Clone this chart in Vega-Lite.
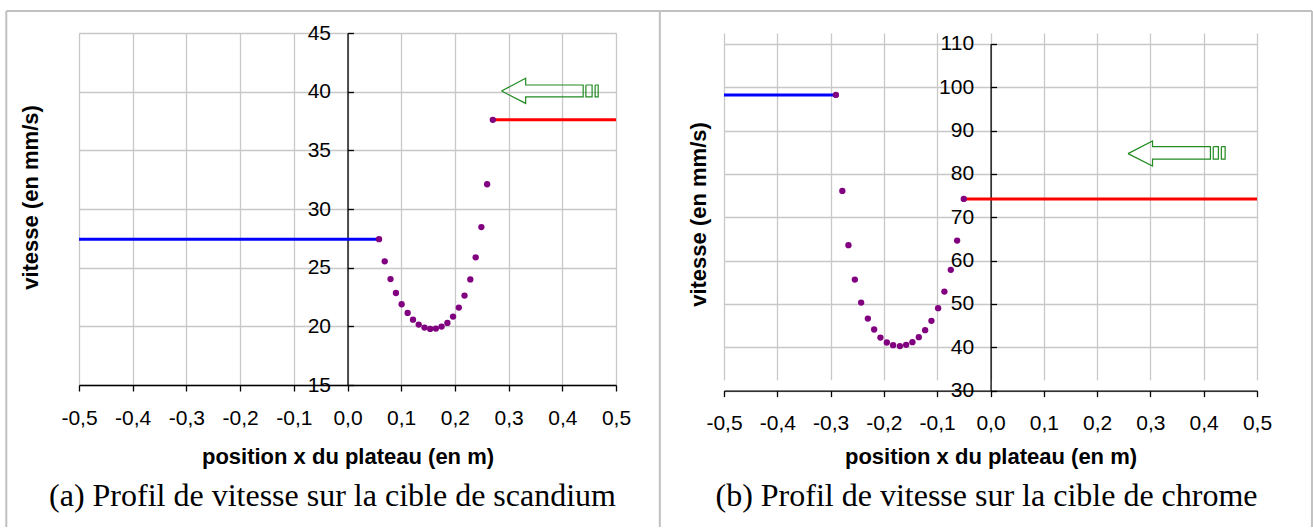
{
  "$schema": "https://vega.github.io/schema/vega-lite/v6.json",
  "padding": {"left": 5, "top": 9, "right": 0, "bottom": 0},
  "spacing": -3,
  "config": {
    "view": {"stroke": null},
    "font": "Liberation Sans",
    "axis": {
      "labelFont": "Liberation Sans", "titleFont": "Liberation Sans",
      "labelColor": "#000000", "titleColor": "#000000",
      "labelFontSize": 21, "titleFontSize": 22, "titleFontWeight": "bold",
      "gridColor": "#c8c8c8", "gridWidth": 1.3, "gridOpacity": 1,
      "domainColor": "#000000", "tickColor": "#000000", "domainWidth": 1.3, "tickWidth": 1.3,
      "labelFlush": false, "labelOverlap": false
    },
    "title": {"font": "Liberation Serif", "fontSize": 32, "fontWeight": "normal", "color": "#000000", "baseline": "top"}
  },
  "datasets": {
    "sc_frame": [
      {"x": -0.6354, "x2": 0.5816, "y": 46.875, "y2": 46.875},
      {"x": -0.6354, "x2": -0.6354, "y": 46.875, "y2": 2.9},
      {"x": 0.5816, "x2": 0.5816, "y": 46.875, "y2": 2.9}
    ],
    "cr_frame": [
      {"x": -0.6205, "x2": 0.6031, "y": 117.57, "y2": 117.57},
      {"x": 0.6031, "x2": 0.6031, "y": 117.57, "y2": -1.46}
    ],
    "sc_levels": [
      {"phase": "avant", "x": -0.5, "x2": 0.0587, "y": 27.43},
      {"phase": "après", "x": 0.2706, "x2": 0.5, "y": 37.6}
    ],
    "cr_levels": [
      {"phase": "avant", "x": -0.5, "x2": -0.29, "y": 98.2},
      {"phase": "après", "x": -0.0501, "x2": 0.5, "y": 74.22}
    ],
    "sc_points": [
      {"x": 0.0587, "y": 27.43}, {"x": 0.0693, "y": 25.54}, {"x": 0.0801, "y": 24.03},
      {"x": 0.0902, "y": 22.84}, {"x": 0.1008, "y": 21.88}, {"x": 0.112, "y": 21.14},
      {"x": 0.122, "y": 20.57}, {"x": 0.1326, "y": 20.15}, {"x": 0.1434, "y": 19.89},
      {"x": 0.154, "y": 19.78}, {"x": 0.1646, "y": 19.81}, {"x": 0.1752, "y": 19.98},
      {"x": 0.186, "y": 20.29}, {"x": 0.1966, "y": 20.83}, {"x": 0.2073, "y": 21.6},
      {"x": 0.2179, "y": 22.62}, {"x": 0.2287, "y": 24.0}, {"x": 0.2387, "y": 25.88},
      {"x": 0.2493, "y": 28.46}, {"x": 0.26, "y": 32.11}, {"x": 0.2706, "y": 37.6}
    ],
    "cr_points": [
      {"x": -0.29, "y": 98.2}, {"x": -0.278, "y": 76.06}, {"x": -0.2665, "y": 63.54},
      {"x": -0.2545, "y": 55.62}, {"x": -0.2427, "y": 50.31}, {"x": -0.2301, "y": 46.62},
      {"x": -0.2183, "y": 44.09}, {"x": -0.2065, "y": 42.24}, {"x": -0.1945, "y": 41.09},
      {"x": -0.1827, "y": 40.49}, {"x": -0.17, "y": 40.26}, {"x": -0.1583, "y": 40.56},
      {"x": -0.1465, "y": 41.18}, {"x": -0.1345, "y": 42.33}, {"x": -0.1226, "y": 43.95},
      {"x": -0.1108, "y": 46.09}, {"x": -0.0983, "y": 49.02}, {"x": -0.0865, "y": 52.85},
      {"x": -0.0745, "y": 57.85}, {"x": -0.0626, "y": 64.61}, {"x": -0.0501, "y": 74.22}
    ],
    "sc_arrow": [
      {"shape": "head", "i": 0, "x": 0.2868, "y": 40.06},
      {"shape": "head", "i": 1, "x": 0.3318, "y": 41.14},
      {"shape": "head", "i": 2, "x": 0.3318, "y": 40.57},
      {"shape": "head", "i": 3, "x": 0.4389, "y": 40.57},
      {"shape": "head", "i": 4, "x": 0.4389, "y": 39.55},
      {"shape": "head", "i": 5, "x": 0.3318, "y": 39.55},
      {"shape": "head", "i": 6, "x": 0.3318, "y": 39.0},
      {"shape": "head", "i": 7, "x": 0.2868, "y": 40.06},
      {"shape": "r1", "i": 0, "x": 0.4439, "y": 40.57},
      {"shape": "r1", "i": 1, "x": 0.4555, "y": 40.57},
      {"shape": "r1", "i": 2, "x": 0.4555, "y": 39.55},
      {"shape": "r1", "i": 3, "x": 0.4439, "y": 39.55},
      {"shape": "r1", "i": 4, "x": 0.4439, "y": 40.57},
      {"shape": "r2", "i": 0, "x": 0.4611, "y": 40.57},
      {"shape": "r2", "i": 1, "x": 0.4668, "y": 40.57},
      {"shape": "r2", "i": 2, "x": 0.4668, "y": 39.55},
      {"shape": "r2", "i": 3, "x": 0.4611, "y": 39.55},
      {"shape": "r2", "i": 4, "x": 0.4611, "y": 40.57}
    ],
    "cr_arrow": [
      {"shape": "head", "i": 0, "x": 0.258, "y": 84.66},
      {"shape": "head", "i": 1, "x": 0.304, "y": 87.59},
      {"shape": "head", "i": 2, "x": 0.304, "y": 86.28},
      {"shape": "head", "i": 3, "x": 0.4126, "y": 86.28},
      {"shape": "head", "i": 4, "x": 0.4126, "y": 83.38},
      {"shape": "head", "i": 5, "x": 0.304, "y": 83.38},
      {"shape": "head", "i": 6, "x": 0.304, "y": 81.83},
      {"shape": "head", "i": 7, "x": 0.258, "y": 84.66},
      {"shape": "r1", "i": 0, "x": 0.4179, "y": 86.28},
      {"shape": "r1", "i": 1, "x": 0.4275, "y": 86.28},
      {"shape": "r1", "i": 2, "x": 0.4275, "y": 83.38},
      {"shape": "r1", "i": 3, "x": 0.4179, "y": 83.38},
      {"shape": "r1", "i": 4, "x": 0.4179, "y": 86.28},
      {"shape": "r2", "i": 0, "x": 0.4331, "y": 86.28},
      {"shape": "r2", "i": 1, "x": 0.4402, "y": 86.28},
      {"shape": "r2", "i": 2, "x": 0.4402, "y": 83.38},
      {"shape": "r2", "i": 3, "x": 0.4331, "y": 83.38},
      {"shape": "r2", "i": 4, "x": 0.4331, "y": 86.28}
    ]
  },
  "hconcat": [
    {
      "width": 537,
      "height": 352,
      "title": {"text": "(a) Profil de vitesse sur la cible de scandium", "orient": "bottom", "frame": "group", "offset": -47, "dx": -15},
      "encoding": {
        "x": {
          "field": "x", "type": "quantitative",
          "scale": {"domain": [-0.5, 0.5], "nice": false, "zero": false},
          "title": "position x du plateau (en m)",
          "axis": {
            "values": [-0.5, -0.4, -0.3, -0.2, -0.1, 0, 0.1, 0.2, 0.3, 0.4, 0.5],
            "labelExpr": "replace(replace(format(datum.value, '.1f'), '.', ','), '\u2212', '-')",
            "tickSize": 6, "labelPadding": 16, "titlePadding": 18, "grid": true
          }
        },
        "y": {
          "field": "y", "type": "quantitative",
          "scale": {"domain": [15, 45], "nice": false, "zero": false},
          "title": "vitesse (en mm/s)",
          "axis": {
            "values": [15, 20, 25, 30, 35, 40, 45],
            "offset": -268.5, "tickSize": -6, "labelPadding": 23, "grid": true,
            "titleX": -317, "titleY": 164, "titleBaseline": "middle"
          }
        }
      },
      "layer": [
        {
          "data": {"name": "sc_frame"},
          "mark": {"type": "rule", "clip": false, "color": "#c0c0c0", "strokeWidth": 2},
          "encoding": {"x2": {"field": "x2"}, "y2": {"field": "y2"}}
        },
        {
          "data": {"name": "sc_levels"},
          "mark": {"type": "rule", "strokeWidth": 3},
          "encoding": {
            "x2": {"field": "x2"},
            "color": {"field": "phase", "type": "nominal", "scale": {"domain": ["avant", "après"], "range": ["#0000ff", "#ff0000"]}, "legend": null}
          }
        },
        {
          "data": {"name": "sc_points"},
          "mark": {"type": "circle", "size": 40, "color": "#800080", "opacity": 1}
        },
        {
          "data": {"name": "sc_arrow"},
          "mark": {"type": "line", "color": "#228b22", "strokeWidth": 1.2},
          "encoding": {"detail": {"field": "shape"}, "order": {"field": "i", "type": "quantitative"}}
        }
      ]
    },
    {
      "width": 533,
      "height": 357.6,
      "title": {"text": "(b) Profil de vitesse sur la cible de chrome", "orient": "bottom", "frame": "group", "offset": -47, "dx": -4},
      "encoding": {
        "x": {
          "field": "x", "type": "quantitative",
          "scale": {"domain": [-0.5, 0.5], "nice": false, "zero": false},
          "title": "position x du plateau (en m)",
          "axis": {
            "values": [-0.5, -0.4, -0.3, -0.2, -0.1, 0, 0.1, 0.2, 0.3, 0.4, 0.5],
            "labelExpr": "replace(replace(format(datum.value, '.1f'), '.', ','), '\u2212', '-')",
            "tickSize": 6, "labelPadding": 16, "titlePadding": 13, "grid": true
          }
        },
        "y": {
          "field": "y", "type": "quantitative",
          "scale": {"domain": [30, 110], "nice": false, "zero": false, "range": [357.6, 10.8]},
          "title": "vitesse (en mm/s)",
          "axis": {
            "values": [30, 40, 50, 60, 70, 80, 90, 100, 110],
            "offset": -266.6, "tickSize": -6, "labelPadding": 23, "grid": true,
            "titleX": -292, "titleY": 181, "titleBaseline": "middle"
          }
        }
      },
      "layer": [
        {
          "data": {"name": "cr_frame"},
          "mark": {"type": "rule", "clip": false, "color": "#c0c0c0", "strokeWidth": 2},
          "encoding": {"x2": {"field": "x2"}, "y2": {"field": "y2"}}
        },
        {
          "data": {"name": "cr_levels"},
          "mark": {"type": "rule", "strokeWidth": 3},
          "encoding": {
            "x2": {"field": "x2"},
            "color": {"field": "phase", "type": "nominal", "scale": {"domain": ["avant", "après"], "range": ["#0000ff", "#ff0000"]}, "legend": null}
          }
        },
        {
          "data": {"name": "cr_points"},
          "mark": {"type": "circle", "size": 40, "color": "#800080", "opacity": 1}
        },
        {
          "data": {"name": "cr_arrow"},
          "mark": {"type": "line", "color": "#228b22", "strokeWidth": 1.2},
          "encoding": {"detail": {"field": "shape"}, "order": {"field": "i", "type": "quantitative"}}
        }
      ]
    }
  ]
}
